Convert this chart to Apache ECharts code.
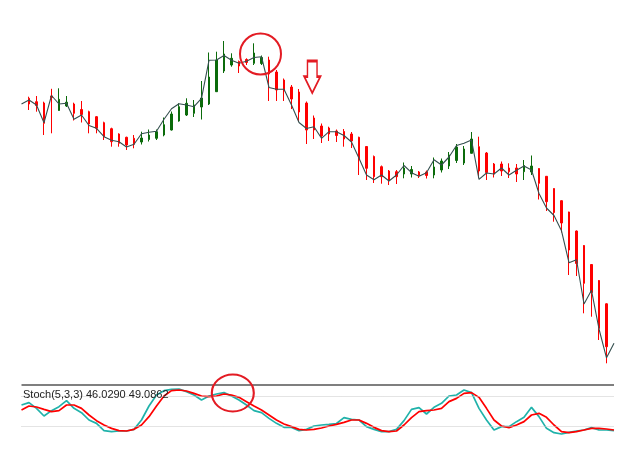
<!DOCTYPE html>
<html>
<head>
<meta charset="utf-8">
<script src="https://cdn.jsdelivr.net/npm/echarts@6/dist/echarts.min.js"></script>
<style>
  html, body { margin: 0; padding: 0; background: #ffffff; }
  #chart { width: 639px; height: 464px; }
</style>
</head>
<body>
<div id="chart"></div>
<script>
// ---- data ----
const categories = Array.from({ length: 80 }, (_, i) => 'Bar ' + (i + 1));

const candleOpen = [null, 301.7, 298.3, 297, 304, 289.5, 294, 296, 290.5, 288.3, 283.3, 277.3, 271.3, 266, 262.7, 261.7, 258, 260.5, 261.7, 265, 270, 279, 285, 286.7, 293, 296, 308.3, 329, 335, 338.5, 340.5, 336.7, 336.5, 340, 328, 320, 313, 308, 297, 282, 274, 272, 269, 268.5, 266, 262.7, 253.5, 243.5, 233.3, 229, 228.3, 226, 226, 228, 228, 225, 230, 234, 239.5, 237, 246.7, 253.3, 247, 236, 236, 232, 232, 228.3, 228, 231.5, 223.7, 211.5, 199.3, 188, 169, 154.5, 135.5, 119.5, 96.2, null];
const candleClose = [null, 296, 294.5, 276.7, 302.5, 300.7, 297.8, 286.7, 285.5, 276, 271.7, 263.3, 258.3, 256.7, 255, 255.7, 262, 265, 268.3, 275.3, 286, 293.3, 296.7, 295, 302, 323, 340, 346, 341.7, 334, 337.5, 347, 342.5, 326, 310, 309, 301, 288, 270, 270, 264, 266, 264.5, 261, 259, 240, 231.7, 223.3, 223.3, 220, 223.3, 232, 230.5, 224.5, 224.5, 233, 239, 245, 253, 251, 261, 229, 227.5, 226, 229, 228.3, 226, 234.5, 234, 216.7, 198.3, 187.5, 177, 150, 136.5, 116.7, 107.5, 71.7, 53.3, null];
const candleLow = [null, 290, 288.3, 265, 266.7, 289.3, 293, 279.5, 277.5, 266.7, 266.7, 260, 253.3, 253.3, 250, 251.7, 255.5, 258.5, 260, 263.7, 269.5, 278.3, 284, 283, 280.5, 295, 308, 327, 333.3, 327, 335, 335, 335, 299, 299, 299, 291, 278, 256, 261, 257, 259, 258, 253.3, 252, 225, 220, 217, 216.3, 215, 216, 221.7, 222.5, 222, 221.5, 221.7, 227.5, 231, 237, 235, 246.5, 222, 220, 222.5, 224, 222, 218, 220, 225, 200.5, 189, 178.3, 167.5, 125, 124, 86.7, 83.3, 60, 36.7, null];
const candleHigh = [null, 303.3, 304, 298.3, 311.2, 311.7, 304, 297.3, 299, 289.3, 284, 278.3, 272.3, 266.7, 263.3, 265, 268.3, 270.5, 270.5, 282.5, 288.5, 296.7, 301.7, 300, 319, 347.5, 348.3, 359, 346.7, 339.5, 341.7, 356.7, 344.5, 343.3, 330, 321.5, 315, 311, 298.5, 284.5, 276.5, 273.3, 270.5, 271, 268, 263.3, 254, 244.5, 234.5, 230, 230, 237.5, 234, 229, 229.5, 242.5, 241.5, 248, 256, 254, 268, 263.3, 248, 237, 238.5, 236.7, 236, 240, 244.5, 231.7, 224, 211.7, 199.7, 188.3, 169.5, 155, 136, 120, 96.7, null];

const priceLine = [296, 300, 295, 277.3, 304.5, 296, 296.7, 280.7, 285, 274.5, 271.7, 263.3, 259.7, 258.3, 253, 255.8, 266.2, 267.8, 268.8, 280.8, 291.2, 296.3, 295, 293.3, 301.7, 339.7, 340, 344.5, 339.7, 336.7, 338.8, 342.5, 343.3, 312.5, 310.7, 310.7, 295, 277.5, 271.5, 273.3, 261.7, 268.3, 268.3, 264.5, 258, 241.7, 225, 220.3, 225, 219, 225, 234.5, 227.3, 223.7, 227.3, 240.3, 235, 243, 254.5, 256.7, 260, 220.7, 227, 226, 232, 225, 229.7, 234, 230, 206.5, 192, 184.5, 169.2, 137.3, 140.3, 96, 109.7, 71, 42.2, 56.7];

const stochMain = [62, 66.7, 55.3, 40, 50.7, 58.7, 70.7, 55.3, 46.7, 32, 25.3, 10.7, 8.7, 10, 10, 13.3, 32, 60, 82, 90.7, 93.3, 94, 88.7, 82, 72, 80, 84, 86.7, 80, 72, 62, 50.7, 46.7, 35.3, 25.3, 17.3, 17.3, 10.7, 13.3, 20, 22, 23.3, 25, 36.7, 33.3, 32, 18.7, 13.3, 8.7, 8.7, 13.3, 30.7, 53.3, 56.7, 44, 57.3, 65.3, 80, 82, 92, 86.7, 55.3, 32, 12, 18.7, 18.7, 28.7, 37.3, 57.3, 38.7, 15.3, 6.7, 4, 7.3, 10, 12, 16.7, 12, 12, 10.7];
const stochSignal = [52, 60, 58, 53.3, 48.7, 50.7, 62, 62, 55.3, 42, 30.7, 22, 15.3, 10.7, 10, 13.3, 22, 38.7, 60, 80, 90.7, 92, 90, 85.3, 80, 78.7, 80, 84, 82, 77.3, 68.7, 60, 52, 42, 32, 24, 18.7, 13.3, 12, 13.3, 16, 20, 23.3, 27.3, 32, 32, 25.3, 17.3, 10.7, 8.7, 10, 22, 36.7, 48.7, 50.7, 52, 55.3, 68.7, 75.3, 85.3, 86.7, 77.3, 55.3, 32, 20, 16.7, 22, 28.7, 42, 45.3, 37.3, 22, 8.7, 6.7, 8.7, 12, 15.3, 15.3, 14, 12];

const stochLevels = [80, 20];
const stochLabel = 'Stoch(5,3,3) 46.0290 49.0862';

// ---- build ----
const candleData = categories.map((c, i) =>
  candleOpen[i] == null ? '-' : [candleOpen[i], candleClose[i], candleLow[i], candleHigh[i]]);

const first = categories[0], last = categories[categories.length - 1];
const dotted = { type: 'dotted', color: '#c8c8c8', width: 1 };

const chart = echarts.init(document.getElementById('chart'), null, { renderer: 'canvas' });
chart.setOption({
  animation: false,
  backgroundColor: '#ffffff',
  grid: [
    { left: 17.75, width: 600, top: 20, height: 350 },
    { left: 17.75, width: 600, top: 385, height: 51 }
  ],
  xAxis: [
    { type: 'category', data: categories, boundaryGap: true, show: false, gridIndex: 0 },
    { type: 'category', data: categories, boundaryGap: true, show: false, gridIndex: 1 }
  ],
  yAxis: [
    { type: 'value', min: 30, max: 380, show: false, gridIndex: 0 },
    { type: 'value', min: 0, max: 102, show: false, gridIndex: 1 }
  ],
  graphic: [{
    type: 'text', left: 23, top: 389,
    style: { text: stochLabel, font: '11px "Liberation Sans", Arial, sans-serif', fill: '#222222' },
    silent: true, z: 100
  }],
  series: [
    {
      type: 'candlestick', xAxisIndex: 0, yAxisIndex: 0,
      data: candleData, barWidth: 2,
      itemStyle: {
        color: '#0b6b0b', color0: '#ff0000',
        borderColor: '#0b6b0b', borderColor0: '#ff0000', borderWidth: 1
      },
      silent: true,
      markPoint: {
        silent: true, label: { show: false },
        data: [
          { coord: [categories[32], 346], symbol: 'circle', symbolSize: 41, symbolOffset: [-1, 0],
            itemStyle: { color: 'rgba(0,0,0,0)', borderColor: '#e31b23', borderWidth: 2 } },
          { coord: [categories[39], 323], symbol: 'path://M3.3,0 L13.3,0 L13.3,16 L16.7,16 L8.3,32.6 L0,16 L3.3,16 Z',
            symbolSize: [16, 32], symbolOffset: [-1.7, 0], symbolKeepAspect: false,
            itemStyle: { color: '#ffffff', borderColor: '#e31b23', borderWidth: 2 } }
        ]
      }
    },
    {
      type: 'line', xAxisIndex: 0, yAxisIndex: 0, data: priceLine,
      symbol: 'none', silent: true,
      lineStyle: { color: '#344f4f', width: 1.1 }
    },
    {
      type: 'line', xAxisIndex: 1, yAxisIndex: 1, data: stochMain,
      symbol: 'none', silent: true,
      lineStyle: { color: '#20b2aa', width: 1.7 },
      markLine: {
        silent: true, symbol: 'none', label: { show: false },
        data: [
          [{ coord: [first, stochLevels[0]], lineStyle: dotted }, { coord: [last, stochLevels[0]] }],
          [{ coord: [first, stochLevels[1]], lineStyle: dotted }, { coord: [last, stochLevels[1]] }],
          [{ coord: [first, 102], lineStyle: { type: 'solid', color: '#555555', width: 1.5 } }, { coord: [last, 102] }]
        ]
      }
    },
    {
      type: 'line', xAxisIndex: 1, yAxisIndex: 1, data: stochSignal,
      symbol: 'none', silent: true,
      lineStyle: { color: '#ff0000', width: 1.7 },
      markPoint: {
        silent: true, label: { show: false },
        data: [
          { coord: [categories[28], 86], symbol: 'circle', symbolSize: [42, 37], symbolOffset: [1.3, 0],
            itemStyle: { color: 'rgba(0,0,0,0)', borderColor: '#e31b23', borderWidth: 2 } }
        ]
      }
    }
  ]
});
</script>
</body>
</html>
